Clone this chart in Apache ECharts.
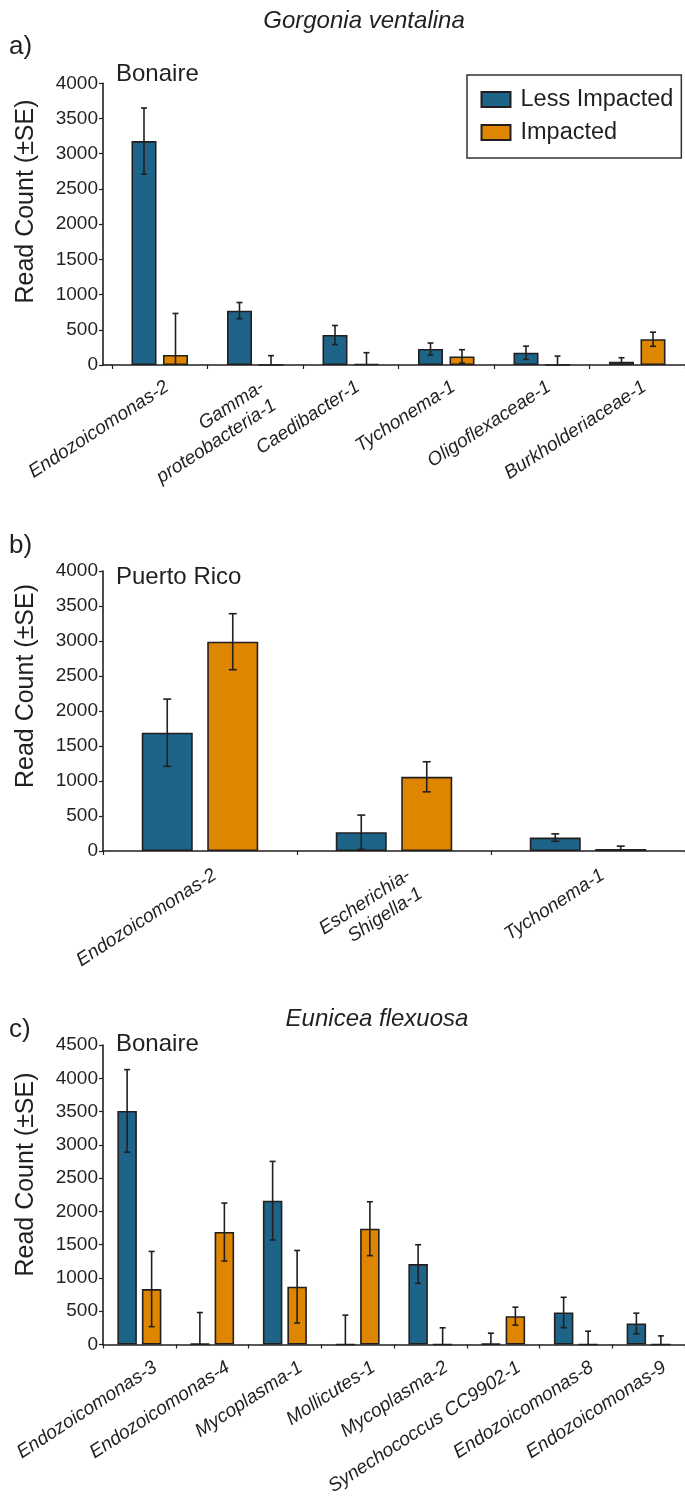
<!DOCTYPE html>
<html>
<head>
<meta charset="utf-8">
<script src="https://cdn.jsdelivr.net/npm/echarts@6/dist/echarts.min.js"></script>
<style>
html,body{margin:0;padding:0;background:#fff;}
#chart{width:685px;height:1505px;}
</style>
</head>
<body>
<div id="chart"></div>
<script>
// ---------- DATA ----------
const seriesNames = ['Less Impacted', 'Impacted'];

// a) Gorgonia ventalina, Bonaire
const catsA = ['Endozoicomonas-2', 'Gamma-\nproteobacteria-1', 'Caedibacter-1', 'Tychonema-1', 'Oligoflexaceae-1', 'Burkholderiaceae-1'];
const lessA = [3180, 772, 426, 227, 174, 47];
const lessSeA = [470, 115, 135, 85, 94, 56];
const impA = [142, 0, 15, 122, 0, 366];
const impSeA = [590, 133, 160, 95, 127, 100];

// b) Gorgonia ventalina, Puerto Rico
const catsB = ['Endozoicomonas-2', 'Escherichia-\nShigella-1', 'Tychonema-1'];
const lessB = [1690, 268, 192];
const lessSeB = [480, 245, 53];
const impB = [2990, 1060, 28];
const impSeB = [400, 215, 42];

// c) Eunicea flexuosa, Bonaire
const catsC = ['Endozoicomonas-3', 'Endozoicomonas-4', 'Mycoplasma-1', 'Mollicutes-1', 'Mycoplasma-2', 'Synechococcus CC9902-1', 'Endozoicomonas-8', 'Endozoicomonas-9'];
const lessC = [3510, 10, 2161, 0, 1209, 10, 481, 316];
const lessSeC = [620, 470, 590, 441, 290, 160, 228, 155];
const impC = [833, 1690, 868, 1740, 0, 426, 0, 0];
const impSeC = [565, 435, 545, 405, 251, 135, 200, 130];

// ---------- STYLE / LAYOUT ----------
const FONT = '"Liberation Sans", Arial, Helvetica, sans-serif';
const INK = '#231f20';
const BLUE = '#1d6488';
const ORANGE = '#df8600';

const panels = [
  {cats: catsA, less: lessA, lessSe: lessSeA, imp: impA, impSe: impSeA, max: 4000,
   grid: {left: 112, top: 83.3, width: 574, height: 281.7}, axisX: 103,
   barW: 25, gap: 6.5, cap: 3, labMargin: 0, labPad: [10, 5, 0, 0], titleLift: 163.5},
  {cats: catsB, less: lessB, lessSe: lessSeB, imp: impB, impSe: impSeB, max: 4000,
   grid: {left: 103, top: 571, width: 601, height: 280}, axisX: 103,
   barW: 51, gap: 14.5, cap: 4, labMargin: 0, labPad: [16, 0, 0, 0], titleLift: 165},
  {cats: catsC, less: lessC, lessSe: lessSeC, imp: impC, impSe: impSeC, max: 4500,
   grid: {left: 103, top: 1045, width: 588, height: 299.5}, axisX: 103,
   barW: 19.5, gap: 5, cap: 3, labMargin: -3, labPad: [18, 0, 0, 0], titleLift: 170}
];

const grids = [], xAxes = [], yAxes = [], series = [], graphics = [];

panels.forEach((p, k) => {
  grids.push(Object.assign({}, p.grid));
  xAxes.push({
    type: 'category', gridIndex: k, data: p.cats,
    axisLine: {show: true, lineStyle: {color: INK, width: 1.6}},
    axisTick: {show: true, length: 4, lineStyle: {color: INK, width: 1.2}},
    axisLabel: {
      interval: 0, rotate: 33, margin: p.labMargin,
      align: 'right', verticalAlign: 'top', padding: p.labPad,
      fontFamily: FONT, fontStyle: 'italic', fontSize: 19, lineHeight: 22, color: INK
    },
    splitLine: {show: false}
  });
  yAxes.push({
    type: 'value', gridIndex: k, min: 0, max: p.max, interval: 500,
    offset: p.grid.left - p.axisX,
    axisLine: {show: true, lineStyle: {color: INK, width: 1.6}},
    axisTick: {show: true, length: 4, lineStyle: {color: INK, width: 1.2}},
    axisLabel: {margin: 5, fontFamily: FONT, fontSize: 19, color: INK, formatter: v => String(v)},
    splitLine: {show: false}
  });
  const barStyle = (c) => ({color: c, borderColor: INK, borderWidth: 1.6});
  series.push({
    name: seriesNames[0], type: 'bar', xAxisIndex: k, yAxisIndex: k, data: p.less,
    barWidth: p.barW, barGap: (p.gap / p.barW * 100).toFixed(1) + '%',
    itemStyle: barStyle(BLUE), emphasis: {disabled: true}, z: 2
  });
  series.push({
    name: seriesNames[1], type: 'bar', xAxisIndex: k, yAxisIndex: k, data: p.imp,
    barWidth: p.barW, barGap: (p.gap / p.barW * 100).toFixed(1) + '%',
    itemStyle: barStyle(ORANGE), emphasis: {disabled: true}, z: 2
  });
  // error bars
  const errData = [];
  p.cats.forEach((c, i) => {
    errData.push([i, p.less[i], p.lessSe[i], 0]);
    errData.push([i, p.imp[i], p.impSe[i], 1]);
  });
  const half = (p.barW + p.gap) / 2;
  series.push({
    type: 'custom', xAxisIndex: k, yAxisIndex: k, data: errData, z: 5, silent: true,
    renderItem: function (params, api) {
      const i = api.value(0), v = api.value(1), se = api.value(2), s = api.value(3);
      const dx = (s === 0 ? -half : half);
      const top = api.coord([i, v + se]);
      const lowV = v - se;
      const bot = lowV > 0 ? api.coord([i, lowV]) : api.coord([i, 0]);
      const x = top[0] + dx;
      const st = {stroke: INK, lineWidth: 1.6};
      const children = [
        {type: 'line', shape: {x1: x, y1: top[1], x2: x, y2: bot[1]}, style: st},
        {type: 'line', shape: {x1: x - p.cap, y1: top[1], x2: x + p.cap, y2: top[1]}, style: st}
      ];
      if (lowV > 0) {
        children.push({type: 'line', shape: {x1: x - p.cap, y1: bot[1], x2: x + p.cap, y2: bot[1]}, style: st});
      }
      return {type: 'group', children: children};
    }
  });
  // extend baseline to the y axis where the category band starts right of it
  if (p.grid.left > p.axisX) {
    const by = p.grid.top + p.grid.height;
    graphics.push({type: 'line', shape: {x1: p.axisX, y1: by, x2: p.grid.left, y2: by},
      style: {stroke: INK, lineWidth: 1.6}, z: 10});
  }
  // y axis title
  graphics.push({type: 'text', x: 26, y: p.grid.top + p.grid.height - p.titleLift, rotation: Math.PI / 2,
    style: {text: 'Read Count (±SE)', fontFamily: FONT, fontSize: 25, fill: INK, align: 'center', verticalAlign: 'middle'}});
});

const txt = (text, x, y, size, opts) => Object.assign({
  type: 'text', x: x, y: y,
  style: Object.assign({text: text, fontFamily: FONT, fontSize: size, fill: INK, align: 'left', verticalAlign: 'middle'}, opts || {})
});
graphics.push(txt('Gorgonia ventalina', 364, 21, 24, {align: 'center', fontStyle: 'italic'}));
graphics.push(txt('a)', 9, 47, 26));
graphics.push(txt('Bonaire', 116, 74, 24));
graphics.push(txt('b)', 9, 546, 26));
graphics.push(txt('Puerto Rico', 116, 577, 24));
graphics.push(txt('c)', 9, 1030, 26));
graphics.push(txt('Eunicea flexuosa', 377, 1019, 24, {align: 'center', fontStyle: 'italic'}));
graphics.push(txt('Bonaire', 116, 1044, 24));

const chart = echarts.init(document.getElementById('chart'), null, {renderer: 'canvas'});
chart.setOption({
  animation: false,
  backgroundColor: '#fff',
  textStyle: {fontFamily: FONT},
  legend: {
    data: seriesNames, orient: 'vertical', left: 467, top: 75,
    itemWidth: 29, itemHeight: 15, itemGap: 9, icon: 'rect',
    padding: [12.5, 8, 13.5, 13.5],
    borderColor: '#333', borderWidth: 1.5,
    textStyle: {fontFamily: FONT, fontSize: 23.5, lineHeight: 23, color: INK, padding: [0, 0, 0, 5]},
    selectedMode: false
  },
  grid: grids, xAxis: xAxes, yAxis: yAxes, series: series,
  graphic: graphics
});
</script>
</body>
</html>
